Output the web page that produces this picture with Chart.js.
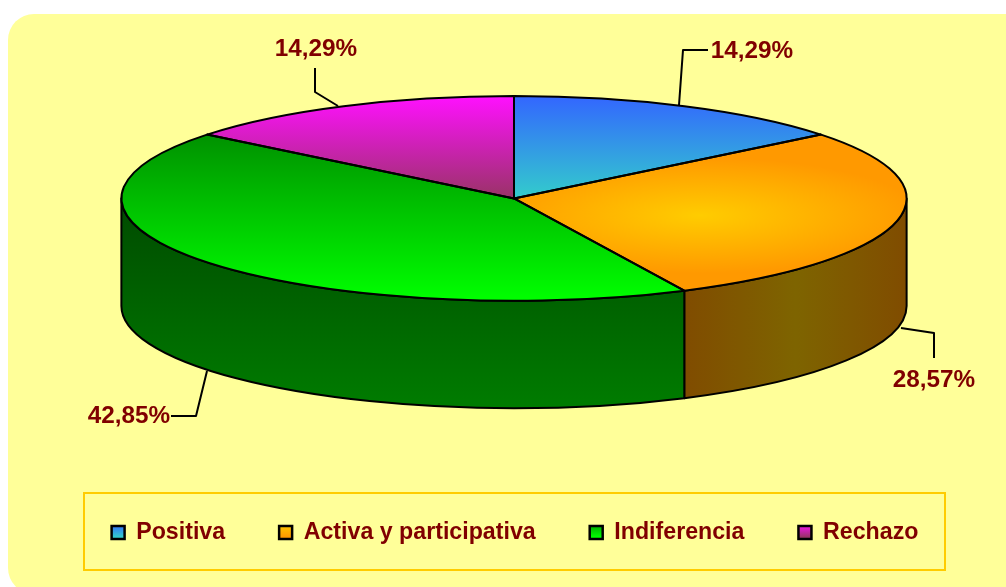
<!DOCTYPE html>
<html>
<head>
<meta charset="utf-8">
<style>html,body{margin:0;padding:0;background:#fff}canvas{display:block}</style>
<script src="https://cdn.jsdelivr.net/npm/chart.js@4"></script>
</head>
<body>
<canvas id="c" width="1006" height="587"></canvas>
<script>
const categories = ["Positiva", "Activa y participativa", "Indiferencia", "Rechazo"];
const values = [14.29, 28.57, 42.85, 14.29];

const TEXT = "#800000";
const FONT = '"Liberation Sans", Arial, sans-serif';
const SQUASH_X = 393 / 102.5;   // pie circle -> ellipse
const DEPTH = 107.5;

// leader lines & label anchors, one per slice
const leaders = [
  {pts: [[679,105],[683,50],[708,50]], tx: 752, ty: 51},
  {pts: [[901,328],[934,333],[934,358]], tx: 934, ty: 380},
  {pts: [[207,371],[196,416],[171,416]], tx: 129, ty: 416},
  {pts: [[338,106],[315,92],[315,68]], tx: 316, ty: 49}
];

function lin(ctx, x0, y0, x1, y1, stops) {
  const g = ctx.createLinearGradient(x0, y0, x1, y1);
  stops.forEach((c, i) => g.addColorStop(i / (stops.length - 1), c));
  return g;
}
function faceFill(ctx, i, top, bottom, cx, cy) {
  if (i === 0) return lin(ctx, 0, top, 0, bottom, ["#3366FF", "#33CCCC"]);
  if (i === 1) {
    const fx = cx + 186 / SQUASH_X, fy = cy + 17, r = 58;
    const g = ctx.createRadialGradient(fx, fy, 0, fx, fy, r);
    g.addColorStop(0, "#FFCC00"); g.addColorStop(1, "#FF9900");
    return g;
  }
  if (i === 2) return lin(ctx, 0, top, 0, bottom, ["#009000", "#00FF00"]);
  return lin(ctx, 0, top, 0, bottom, ["#FF10FF", "#993366"]);
}

const pie3d = {
  id: "pie3d",
  beforeDraw(chart) {
    const ctx = chart.ctx;
    ctx.save();
    ctx.fillStyle = "#FFFF99";
    ctx.beginPath();
    ctx.roundRect(8, 14, 1040, 580, 26);
    ctx.fill();
    ctx.strokeStyle = "#FFCC00";
    ctx.lineWidth = 2;
    ctx.strokeRect(84, 493, 861, 77);
    ctx.restore();
  },
  afterLayout(chart) {
    const l = chart.legend;
    l.left += 1; l.right += 1;
    l.top += 166; l.bottom += 166;
  },
  beforeDatasetsDraw(chart) {
    const ctx = chart.ctx;
    const arcs = chart.getDatasetMeta(0).data;
    const a0 = arcs[0];
    const cx = a0.x, cy = a0.y, ry = a0.outerRadius, rx = ry * SQUASH_X;
    // front wall, from each slice's own angles
    arcs.forEach((arc, i) => {
      const s = Math.max(arc.startAngle, 0), e = Math.min(arc.endAngle, Math.PI);
      if (e <= s) return;
      ctx.save();
      ctx.beginPath();
      ctx.ellipse(cx, cy, rx, ry, 0, s, e);
      ctx.ellipse(cx, cy + DEPTH, rx, ry, 0, e, s, true);
      ctx.closePath();
      ctx.fillStyle = i === 1
        ? lin(ctx, cx + rx * Math.cos(e), 0, cx + rx, 0, ["#804C00", "#7E6400", "#804C00"])
        : lin(ctx, 0, cy, 0, cy + ry + DEPTH, ["#004A00", "#007C00"]);
      ctx.fill();
      ctx.strokeStyle = "#000";
      ctx.lineWidth = 2;
      ctx.lineJoin = "round";
      ctx.stroke();
      ctx.restore();
    });
    ctx.save();
    ctx.translate(cx, cy);
    ctx.scale(SQUASH_X, 1);
    ctx.translate(-cx, -cy);
  },
  afterDatasetsDraw(chart) {
    const ctx = chart.ctx;
    ctx.restore();
    const arcs = chart.getDatasetMeta(0).data;
    ctx.save();
    ctx.strokeStyle = "#000";
    ctx.lineWidth = 2;
    ctx.lineJoin = "round";
    arcs.forEach(arc => {
      const rx = arc.outerRadius * SQUASH_X, ry = arc.outerRadius;
      ctx.beginPath();
      ctx.moveTo(arc.x, arc.y);
      ctx.ellipse(arc.x, arc.y, rx, ry, 0, arc.startAngle, arc.endAngle);
      ctx.closePath();
      ctx.stroke();
    });
    // leaders and value labels
    ctx.font = "bold 24.3px " + FONT;
    ctx.textAlign = "center";
    ctx.textBaseline = "middle";
    leaders.forEach((l, i) => {
      ctx.beginPath();
      l.pts.forEach((p, k) => k ? ctx.lineTo(p[0], p[1]) : ctx.moveTo(p[0], p[1]));
      ctx.stroke();
      ctx.fillStyle = TEXT;
      ctx.fillText(values[i].toFixed(2).replace(".", ",") + "%", l.tx, l.ty);
    });
    ctx.restore();
  }
};

const canvas = document.getElementById("c");
const c2d = canvas.getContext("2d");
new Chart(c2d, {
  type: "pie",
  plugins: [pie3d],
  data: {
    labels: categories,
    datasets: [{
      data: values,
      borderWidth: 0,
      backgroundColor(ctx) {
        const chart = ctx.chart, a = chart.chartArea;
        if (!a) return "#000";
        const cy = (a.top + a.bottom) / 2, cx = (a.left + a.right) / 2;
        const bounds = [[96,198],[0,0],[133,300],[96,198]][ctx.dataIndex];
        return faceFill(chart.ctx, ctx.dataIndex, bounds[0], bounds[1], cx, cy);
      }
    }]
  },
  options: {
    responsive: false,
    animation: false,
    rotation: 0,
    layout: {padding: {left: 22, right: 0, top: 96, bottom: 199}},
    plugins: {
      tooltip: {enabled: false},
      legend: {
        position: "bottom",
        labels: {
          color: TEXT,
          font: {family: FONT, size: 23.2, weight: "bold"},
          boxWidth: 13,
          boxHeight: 13,
          padding: 54,
          generateLabels(chart) {
            const base = Chart.overrides.pie.plugins.legend.labels.generateLabels(chart);
            const sets = [["#3366FF","#33CCCC"],["#FFCC00","#FF9900"],["#00A000","#00FF00"],["#FF10FF","#993366"]];
            return base.map((it, i) => Object.assign(it, {
              fillStyle: lin(chart.ctx, 0, 524, 0, 537, sets[i]),
              strokeStyle: "#000",
              lineWidth: 2.5
            }));
          }
        }
      }
    }
  }
});
</script>
</body>
</html>
